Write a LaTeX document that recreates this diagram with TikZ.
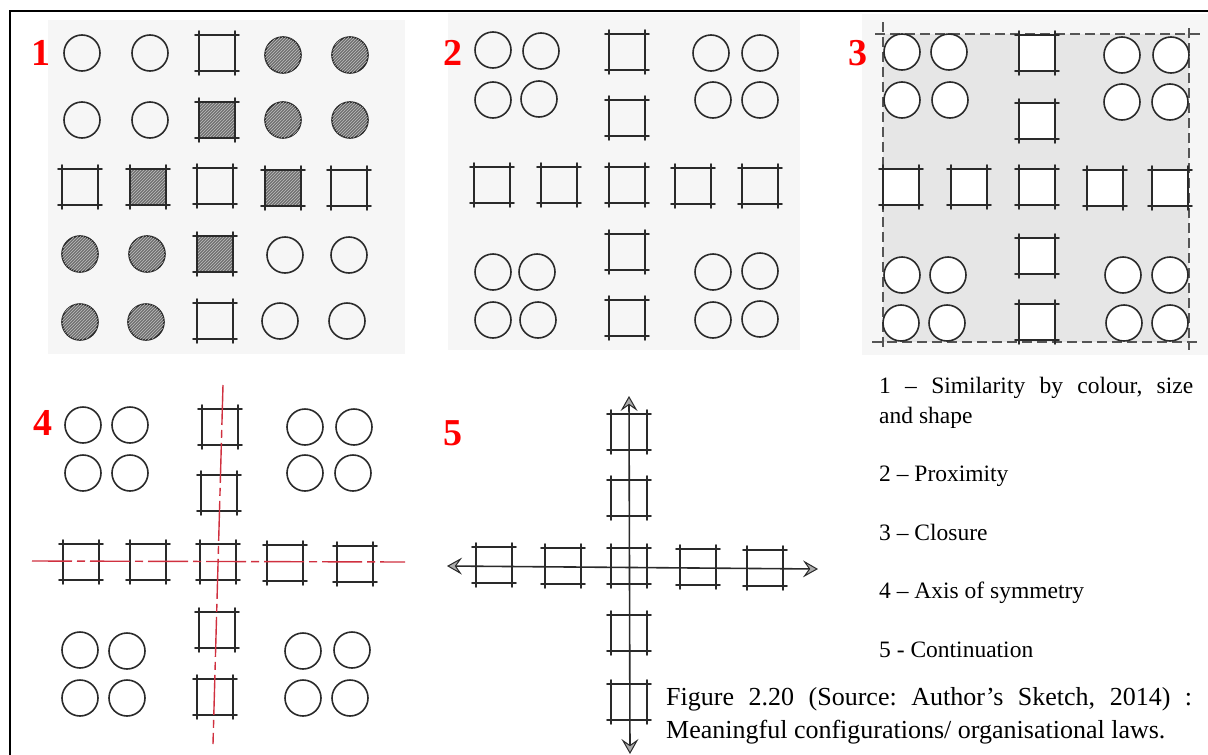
\documentclass[tikz,border=0pt]{standalone}
\usepackage{fontspec}
\setmainfont{Liberation Serif}
\usetikzlibrary{patterns,arrows.meta}
\definecolor{ink}{HTML}{2A2A2A}
\definecolor{hatchgray}{HTML}{707070}
\definecolor{axisred}{HTML}{D0303F}
\definecolor{labelred}{HTML}{FF0000}
\definecolor{panelbg}{HTML}{F6F6F6}
\definecolor{closurebg}{HTML}{E6E6E6}
\tikzset{
  sketch/.style={draw=ink, line width=1.6pt, line cap=round},
  circ/.style={draw=ink, line width=1.6pt},
  hatched/.style={fill=hatchgray, postaction={pattern=north east lines, pattern color=white!55!hatchgray}},
  plain/.style={},
  numlabel/.style={text=labelred, font=\bfseries\fontsize{38}{40}\selectfont, inner sep=0pt},
  legend/.style={font=\fontsize{23.5}{28}\selectfont\frenchspacing, inner sep=0pt, anchor=base west},
  captext/.style={font=\fontsize{26}{30}\selectfont\frenchspacing, inner sep=0pt, anchor=base west},
  redaxis/.style={draw=axisred, line width=1.4pt, dash pattern=on 40pt off 5pt on 8pt off 5pt},
  closeline/.style={draw=ink!80, line width=1.2pt, dash pattern=on 10pt off 5pt},
  contaxis/.style={draw=ink, line width=1.6pt},
  tipfive/.tip={Stealth[length=15pt, width=17pt, inset=6pt, fill=gray!65, color=ink, line width=1pt]}
}
% hand-drawn square: [fill style]{x}{y}
\newcommand\skq[3][plain]{%
  \begin{scope}[shift={(#2,#3)}]
    \path[#1] (-18,-18) rectangle (18,18);
    \draw[sketch] (-22,-18) -- (22,-18) (-22,18) -- (22,18)
                  (-18,-22) -- (-18,22) (18,-22) -- (18,22);
  \end{scope}}
\newcommand\ocirc[2]{\draw[circ] (#1,#2) circle[radius=18pt];}
\newcommand\hcirc[2]{\draw[circ, hatched] (#1,#2) circle[radius=18pt];}
\begin{document}
\begin{tikzpicture}[x=1pt, y=-1pt]
\useasboundingbox (0,0) rectangle (1208,755);
\fill[white] (0,0) rectangle (1208,755);
% frame
\draw[line width=2.5pt] (10,755) -- (10,11) -- (1208,11);

% ---------- panel 1 ----------
\fill[panelbg] (48,20) rectangle (405,354);
\node[numlabel] (n1) at (41,53) {1};
% row 1
\ocirc{82}{53} \ocirc{150}{53} \skq{217}{53} \hcirc{283}{55} \hcirc{350}{55}
% row 2
\ocirc{82}{120} \ocirc{150}{120} \skq[hatched]{217}{120} \hcirc{283}{120} \hcirc{350}{120}
% row 3
\skq{80}{187} \skq[hatched]{148}{187} \skq{215}{186} \skq[hatched]{283}{188} \skq{349}{188}
% row 4
\hcirc{80}{254} \hcirc{147}{254} \skq[hatched]{215}{254} \ocirc{285}{255} \ocirc{349}{255}
% row 5
\hcirc{80}{322} \hcirc{146}{322} \skq{215}{321} \ocirc{280}{321} \ocirc{347}{321}

% ---------- panel 2 ----------
\fill[panelbg] (448,13) rectangle (800,350);
\node[numlabel] (n2) at (453,53) {2};
\ocirc{493}{50} \ocirc{541}{51} \ocirc{493}{100} \ocirc{539}{99}
\ocirc{711}{53} \ocirc{760}{53} \ocirc{713}{100} \ocirc{760}{100}
\ocirc{493}{272} \ocirc{537}{272} \ocirc{493}{320} \ocirc{538}{320}
\ocirc{713}{272} \ocirc{760}{271} \ocirc{713}{320} \ocirc{760}{319}
\skq{627}{52} \skq{627}{118} \skq{627}{185} \skq{627}{252} \skq{627}{318}
\skq{492}{185} \skq{559}{185} \skq{693}{186} \skq{760}{186}

% ---------- panel 3 ----------
\fill[panelbg] (862,14) rectangle (1208,355);
\fill[closurebg] (883,34) rectangle (1189,342);
\draw[closeline] (875,34) -- (1200,34);
\draw[closeline] (872,342) -- (1197,342);
\draw[closeline] (883,22) -- (883,348);
\draw[closeline] (1189,28) -- (1189,350);
\node[numlabel] (n3) at (858,53) {3};
\foreach \x/\y in {902/52,949/52,902/100,950/100,1122/55,1171/55,1122/102,1170/102,
                   902/275,948/275,901/323,947/323,1123/275,1170/275,1124/323,1170/323}{
  \fill[white] (\x,\y) circle[radius=18pt];
  \ocirc{\x}{\y}}
\foreach \x/\y in {1037/53,1037/121,1037/187,1037/256,1037/322,901/187,969/187,1105/188,1170/188}{
  \skq[fill=white]{\x}{\y}}

% ---------- panel 4 ----------
\node[numlabel] (n4) at (43,423) {4};
\ocirc{83}{425} \ocirc{130}{425} \ocirc{83}{473} \ocirc{130}{473}
\ocirc{305}{427} \ocirc{354}{427} \ocirc{305}{473} \ocirc{353}{473}
\ocirc{80}{650} \ocirc{127}{651} \ocirc{80}{698} \ocirc{127}{698}
\ocirc{303}{651} \ocirc{352}{650} \ocirc{303}{698} \ocirc{350}{698}
\skq{220}{427} \skq{219}{493} \skq{218}{562} \skq{217}{630} \skq{215}{697}
\skq{81}{562} \skq{148}{562} \skq{285}{563} \skq{355}{564}
\coordinate (a4t) at (223,385);
\coordinate (a4b) at (213,744);
\coordinate (a4l) at (32,561);
\coordinate (a4r) at (405,562);
\draw[redaxis] (a4t) -- (a4b);
\draw[redaxis] (a4l) -- (a4r);

% ---------- panel 5 ----------
\node[numlabel] (n5) at (453,433) {5};
\skq{629}{432} \skq{629}{498} \skq{629}{566} \skq{629}{633} \skq{629}{702}
\skq{494}{565} \skq{563}{566} \skq{698}{567} \skq{765}{568}
\coordinate (a5l) at (447,566);
\coordinate (a5r) at (818,569);
\coordinate (a5t) at (629,396);
\coordinate (a5b) at (630,754);
\draw[contaxis, tipfive-tipfive] (a5l) -- (a5r);
\draw[contaxis, tipfive-tipfive] (a5t) -- (a5b);

% ---------- legend ----------
\node[legend] (l1) at (879,393) {\makebox[314pt][s]{1 – Similarity by colour, size}};
\node[legend] (l1b) at (879,423) {and shape};
\node[legend] (l2) at (879,481) {2 – Proximity};
\node[legend] (l3) at (879,540) {3 – Closure};
\node[legend] (l4) at (879,598) {4 – Axis of symmetry};
\node[legend] (l5) at (879,657) {5 - Continuation};
\node[captext] (cap1) at (666,705) {\makebox[526pt][s]{Figure 2.20 (Source: Author’s Sketch, 2014) :}};
\node[captext] (cap2) at (666,738) {Meaningful configurations/ organisational laws.};
\end{tikzpicture}
\end{document}
